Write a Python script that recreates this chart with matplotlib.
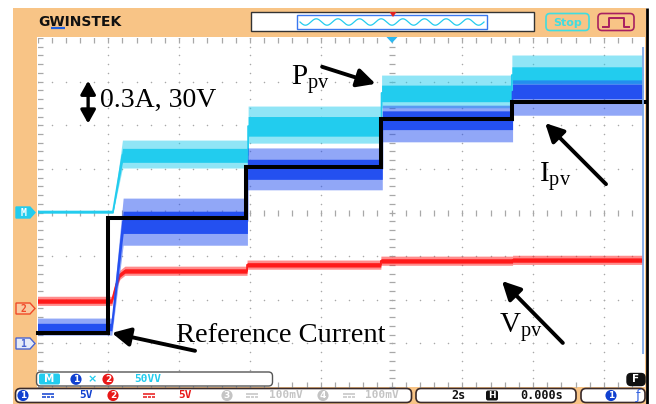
import numpy as np
import matplotlib
matplotlib.use("Agg")
import matplotlib.pyplot as plt
from matplotlib.patches import Rectangle, FancyBboxPatch, Polygon

plt.rcParams["mathtext.fontset"] = "custom"
plt.rcParams["mathtext.rm"] = "Liberation Serif"
plt.rcParams["mathtext.it"] = "Liberation Serif:italic"

W, H = 656, 404          # canvas size in pixels
SERIF = "Liberation Serif"
MONO = "DejaVu Sans Mono"

# ---------------- captured traces (2 s/div, values in screen divisions 0..8) ----
t_stop = 17.1

# reference current command (black staircase)
ref_steps_t = [2.0, 5.9, 9.7, 13.4]
ref_level = [1.24, 3.88, 5.05, 6.15, 6.54]

# CH1: PV current (blue)
ipv_rise_t = [2.10, 2.42]
ipv_rise_frac = [0.0, 1.0]
ipv_steps_t = [5.93, 9.74, 13.42]
ipv_mid = [1.38, 3.80, 5.00, 6.10, 6.77]
ipv_lo = [1.29, 3.52, 4.76, 5.90, 6.61]
ipv_hi = [1.46, 4.03, 5.22, 6.33, 6.94]
ipv_spike_lo = [1.19, 3.25, 4.52, 5.62, 6.23]
ipv_spike_hi = [1.58, 4.33, 5.48, 6.46, 7.04]

# MATH = CH1 x CH2: PV power (cyan)
ppv_rise_t = [2.13, 2.40]
ppv_rise_frac = [0.0, 1.0]
ppv_steps_t = [5.95, 9.72, 13.40]
ppv_mid = [4.01, 5.32, 5.98, 6.74, 7.15]
ppv_lo = [3.99, 5.15, 5.75, 6.54, 6.96]
ppv_hi = [4.04, 5.47, 6.20, 6.92, 7.34]
ppv_spike_lo = [3.98, 5.02, 5.59, 6.40, 6.81]
ppv_spike_hi = [4.06, 5.66, 6.44, 7.15, 7.61]

# CH2: PV voltage (red)
vpv_rise_t = [2.10, 2.22, 2.33, 2.47]
vpv_rise_frac = [0.0, 0.54, 0.87, 1.0]
vpv_steps_t = [5.92, 9.70, 13.42]
vpv_mid = [1.97, 2.66, 2.80, 2.89, 2.91]
vpv_lo = [1.92, 2.61, 2.75, 2.84, 2.86]
vpv_hi = [2.02, 2.71, 2.85, 2.94, 2.96]
vpv_spike_lo = [1.87, 2.56, 2.70, 2.79, 2.81]
vpv_spike_hi = [2.08, 2.77, 2.91, 3.00, 3.02]

C_BLUE = "#2450F0"
C_CYAN = "#22CCEE"
C_RED = "#FF1A1A"
C_ORANGE = "#F8C486"


def staircase(levels, rise_t, rise_frac, steps_t, t_end):
    t = [0.0]
    y = [levels[0]]
    for rt, rf in zip(rise_t, rise_frac):
        t.append(rt)
        y.append(levels[0] + rf * (levels[1] - levels[0]))
    for k, ts in enumerate(steps_t, start=1):
        t += [ts, ts]
        y += [levels[k], levels[k + 1]]
    t.append(t_end)
    y.append(levels[-1])
    return np.array(t), np.array(y)


fig = plt.figure(figsize=(W / 100, H / 100), dpi=100)
fig.patch.set_facecolor("white")

# ---------------- instrument frame (pixel coordinates) ----------------
bg = fig.add_axes([0, 0, 1, 1], zorder=0)
bg.set_xlim(0, W)
bg.set_ylim(H, 0)
bg.axis("off")
bg.add_patch(Rectangle((13, 8), 633, 396, fc=C_ORANGE, ec="none"))
bg.add_patch(Rectangle((37, 37), 608, 350, fc="white", ec="none"))

# logo
bg.text(38, 21.5, "GWINSTEK", fontsize=10, fontweight="bold", family="DejaVu Sans",
        color="#111111", va="center", ha="left")
bg.plot([51, 65], [27.5, 27.5], color="#2060E0", lw=1.6, solid_capstyle="butt")

# memory bar with waveform preview
bg.add_patch(Rectangle((251, 12), 283, 19, fc="white", ec="#333333", lw=1.0))
bg.add_patch(Rectangle((297, 14.5), 190, 14.5, fc="white", ec="#3A78F0", lw=1.0))
sx = np.linspace(300, 484, 400)
bg.plot(sx, 22 + 3.2 * np.sin((sx - 300) / 184 * 2 * np.pi * 8.5), color=C_CYAN, lw=0.9)
bg.add_patch(Polygon([(389.5, 12), (396.5, 12), (393, 17)], closed=True, fc="#E02020", ec="none"))

# Stop / trigger-type buttons
bg.add_patch(FancyBboxPatch((546, 13.5), 43, 17, boxstyle="round,pad=0,rounding_size=4",
                            fc=C_ORANGE, ec="#40DDE0", lw=1.2))
bg.text(567.5, 22.5, "Stop", fontsize=8, fontweight="bold", family="DejaVu Sans",
        color="#40DDE0", ha="center", va="center")
bg.add_patch(FancyBboxPatch((598, 13.5), 36, 17, boxstyle="round,pad=0,rounding_size=4",
                            fc=C_ORANGE, ec="#A82060", lw=1.2))
bg.plot([603, 609, 609, 624, 624, 629], [27, 27, 17.5, 17.5, 27, 27], color="#A82060", lw=1.4)

# ---------------- scope screen ----------------
x0_px, x1_px, y0_px, y1_px = 37.5, 645, 387, 38
ax = fig.add_axes([x0_px / W, (H - y0_px) / H, (x1_px - x0_px) / W, (y0_px - y1_px) / H], zorder=1)
ax.set_xlim(0, (x1_px - x0_px) / 35.4)
ax.set_ylim(0, 8)
ax.axis("off")
xmax = ax.get_xlim()[1]

# graticule
GRID = "#A8A8A8"
ys = np.arange(0, 8.001, 0.2)
xs = np.arange(0, xmax, 0.4)
for k in range(1, 9):
    if k == 5:
        ax.plot(np.full_like(ys, 10.0), ys, ls="none", marker="_", ms=4, mew=0.9, color=GRID, zorder=1)
    else:
        ax.plot(np.full_like(ys, 2.0 * k), ys, ls="none", marker="o", ms=1.1, mew=0, color=GRID, zorder=1)
for m in range(1, 8):
    if m == 4:
        ax.plot(xs, np.full_like(xs, 4.0), ls="none", marker="|", ms=4, mew=0.9, color=GRID, zorder=1)
    else:
        ax.plot(xs, np.full_like(xs, float(m)), ls="none", marker="o", ms=1.1, mew=0, color=GRID, zorder=1)
ax.plot(np.zeros_like(ys), ys, ls="none", marker="_", ms=7, mew=0.9, color=GRID, zorder=1)
ax.plot(xs, np.full_like(xs, 8.0), ls="none", marker="|", ms=7, mew=0.9, color=GRID, zorder=1)
ax.plot(xs, np.zeros_like(xs), ls="none", marker="|", ms=7, mew=0.9, color=GRID, zorder=1)


def draw_trace(mid, lo, hi, slo, shi, rise_t, rise_frac, steps_t, color, z):
    t, m = staircase(mid, rise_t, rise_frac, steps_t, t_stop)
    _, a = staircase(lo, rise_t, rise_frac, steps_t, t_stop)
    _, b = staircase(hi, rise_t, rise_frac, steps_t, t_stop)
    _, c = staircase(slo, rise_t, rise_frac, steps_t, t_stop)
    _, d = staircase(shi, rise_t, rise_frac, steps_t, t_stop)
    ax.fill_between(t, c, d, color=color, alpha=0.5, lw=0, zorder=z)
    ax.fill_between(t, a, b, color=color, lw=0, zorder=z)
    ax.plot(t, m, color=color, lw=1.3, zorder=z)


draw_trace(vpv_mid, vpv_lo, vpv_hi, vpv_spike_lo, vpv_spike_hi,
           vpv_rise_t, vpv_rise_frac, vpv_steps_t, C_RED, 2)
draw_trace(ppv_mid, ppv_lo, ppv_hi, ppv_spike_lo, ppv_spike_hi,
           ppv_rise_t, ppv_rise_frac, ppv_steps_t, C_CYAN, 3)
draw_trace(ipv_mid, ipv_lo, ipv_hi, ipv_spike_lo, ipv_spike_hi,
           ipv_rise_t, ipv_rise_frac, ipv_steps_t, C_BLUE, 4)

# reference current staircase
rt = [0.0]
ry = [ref_level[0]]
for k, ts in enumerate(ref_steps_t):
    rt += [ts, ts]
    ry += [ref_level[k], ref_level[k + 1]]
rt.append(xmax)
ry.append(ref_level[-1])
ax.plot(rt, ry, color="black", lw=2.9, solid_joinstyle="miter", zorder=6, clip_on=False)

# annotations
ARW = dict(arrowstyle="-|>,head_length=0.55,head_width=0.28", lw=2.8, color="black",
           mutation_scale=20, shrinkA=0, shrinkB=0)
ax.annotate("", xy=(1.43, 7.02), xytext=(1.43, 6.04),
            arrowprops=dict(arrowstyle="<|-|>,head_length=0.5,head_width=0.28", lw=2.4,
                            color="black", mutation_scale=16, shrinkA=0, shrinkB=0), zorder=7)
ax.text(1.77, 6.56, "0.3A, 30V", family=SERIF, fontsize=20, color="black",
        ha="left", va="center", zorder=7)

ax.text(7.17, 6.92, r"P$_{\rm pv}$", family=SERIF, fontsize=21, color="black",
        ha="left", va="baseline", zorder=7)
ax.annotate("", xy=(9.55, 6.95), xytext=(8.04, 7.34), arrowprops=ARW, zorder=7)

ax.text(14.17, 4.70, r"I$_{\rm pv}$", family=SERIF, fontsize=21, color="black",
        ha="left", va="baseline", zorder=7)
ax.annotate("", xy=(14.34, 6.05), xytext=(16.06, 4.65), arrowprops=ARW, zorder=7)

ax.text(13.05, 1.24, r"V$_{\rm pv}$", family=SERIF, fontsize=21, color="black",
        ha="left", va="baseline", zorder=7)
ax.annotate("", xy=(13.12, 2.43), xytext=(14.84, 1.01), arrowprops=ARW, zorder=7)

ax.text(3.91, 1.03, "Reference Current", family=SERIF, fontsize=20.5, color="black",
        ha="left", va="baseline", zorder=7)
ax.annotate("", xy=(2.10, 1.24), xytext=(4.45, 0.83), arrowprops=ARW, zorder=7)

# ---------------- overlays: channel tags, menus, status bar ----------------
fg = fig.add_axes([0, 0, 1, 1], zorder=5)
fg.set_xlim(0, W)
fg.set_ylim(H, 0)
fg.axis("off")

# trigger position marker
fg.add_patch(Polygon([(386.5, 37), (397.5, 37), (392, 43)], closed=True, fc="#2CB8F0", ec="none"))
# scroll indicator and right border
fg.plot([643, 643], [47, 354], color="#7FA8E6", lw=1.3, solid_capstyle="butt")
fg.plot([646.8, 646.8], [8, 404], color="black", lw=2.0, solid_capstyle="butt")


def tag(yc, label, fc, ec, tc):
    pts = [(16, yc - 5.5), (30, yc - 5.5), (35, yc), (30, yc + 5.5), (16, yc + 5.5)]
    fg.add_patch(Polygon(pts, closed=True, fc=fc, ec=ec, lw=1.0))
    fg.text(23.5, yc + 0.3, label, fontsize=7, fontweight="bold", family=MONO,
            color=tc, ha="center", va="center")


tag(212.5, "M", C_CYAN, C_CYAN, "white")
tag(308.5, "2", "#F9C9A0", "#F04A28", "#F04A28")
tag(343.5, "1", "#E6EBF8", "#4A64D0", "#4A64D0")


def circ(x, y, label, fc, size=6.5):
    fg.text(x, y, label, fontsize=size, fontweight="bold", family="DejaVu Sans",
            color="white", ha="center", va="center",
            bbox=dict(boxstyle="circle,pad=0.12", fc=fc, ec="none"))


def dc_sym(x, y, color):
    fg.plot([x - 6, x + 6], [y - 1.5, y - 1.5], color=color, lw=1.1, solid_capstyle="butt")
    fg.plot([x - 6, x - 2.5], [y + 1.5, y + 1.5], color=color, lw=1.1, solid_capstyle="butt")
    fg.plot([x - 1.5, x + 1.5], [y + 1.5, y + 1.5], color=color, lw=1.1, solid_capstyle="butt")
    fg.plot([x + 2.5, x + 6], [y + 1.5, y + 1.5], color=color, lw=1.1, solid_capstyle="butt")


# math menu bar
fg.add_patch(FancyBboxPatch((36.5, 372), 236, 14, boxstyle="round,pad=0,rounding_size=4",
                            fc="white", ec="#555555", lw=1.0))
fg.add_patch(FancyBboxPatch((39, 373.5), 21, 11, boxstyle="round,pad=0,rounding_size=2",
                            fc=C_CYAN, ec="none"))
fg.text(49.5, 379.3, "M", fontsize=7.5, fontweight="bold", family="DejaVu Sans",
        color="white", ha="center", va="center")
circ(76, 379.3, "1", "#1040D0")
fg.text(92, 379.3, "×", fontsize=8, fontweight="bold", family="DejaVu Sans",
        color=C_CYAN, ha="center", va="center")
circ(108, 379.3, "2", "#E81818")
fg.text(148, 379, "50VV", fontsize=8, fontweight="bold", family=MONO,
        color=C_CYAN, ha="center", va="center")

# function key badge
fg.add_patch(FancyBboxPatch((627, 373.5), 18, 12, boxstyle="round,pad=0,rounding_size=4",
                            fc="#111111", ec="#111111", lw=1.0))
fg.text(636, 379.5, "F", fontsize=7.5, fontweight="bold", family="DejaVu Sans",
        color="white", ha="center", va="center")

# status bar
SY = 395.5
fg.add_patch(FancyBboxPatch((15.5, 388.5), 396, 14, boxstyle="round,pad=0,rounding_size=5",
                            fc="white", ec="#3A2A2A", lw=1.2))
fg.add_patch(FancyBboxPatch((416, 388.5), 160, 14, boxstyle="round,pad=0,rounding_size=5",
                            fc="white", ec="#3A2A2A", lw=1.2))
fg.add_patch(FancyBboxPatch((581, 388.5), 64, 14, boxstyle="round,pad=0,rounding_size=5",
                            fc="white", ec="#3A2A2A", lw=1.2))

circ(23, SY, "1", "#1040D0")
dc_sym(48, SY, "#1040D0")
fg.text(86, SY, "5V", fontsize=8, fontweight="bold", family=MONO, color="#1040D0",
        ha="center", va="center")
circ(113, SY, "2", "#E81818")
dc_sym(149, SY, "#E81818")
fg.text(185, SY, "5V", fontsize=8, fontweight="bold", family=MONO, color="#E81818",
        ha="center", va="center")
GRAY = "#C4C4C4"
circ(227, SY, "3", GRAY)
dc_sym(252, SY, GRAY)
fg.text(286, SY, "100mV", fontsize=8, fontweight="bold", family=MONO, color=GRAY,
        ha="center", va="center")
circ(323, SY, "4", GRAY)
dc_sym(349, SY, GRAY)
fg.text(382, SY, "100mV", fontsize=8, fontweight="bold", family=MONO, color=GRAY,
        ha="center", va="center")

fg.text(459, SY, "2s", fontsize=8.5, fontweight="bold", family=MONO, color="#111111",
        ha="center", va="center")
fg.add_patch(FancyBboxPatch((486, 390.5), 12, 10, boxstyle="round,pad=0,rounding_size=2",
                            fc="#111111", ec="none"))
fg.text(492, SY, "H", fontsize=6.5, fontweight="bold", family="DejaVu Sans", color="white",
        ha="center", va="center")
fg.text(542, SY, "0.000s", fontsize=8.5, fontweight="bold", family=MONO, color="#111111",
        ha="center", va="center")

circ(611, SY, "1", "#1040D0")
fg.text(638, SY, "ƒ", fontsize=9, family="DejaVu Sans", color="#3060E0",
        ha="center", va="center")

fig.savefig("out.png", dpi=100, facecolor="white")
